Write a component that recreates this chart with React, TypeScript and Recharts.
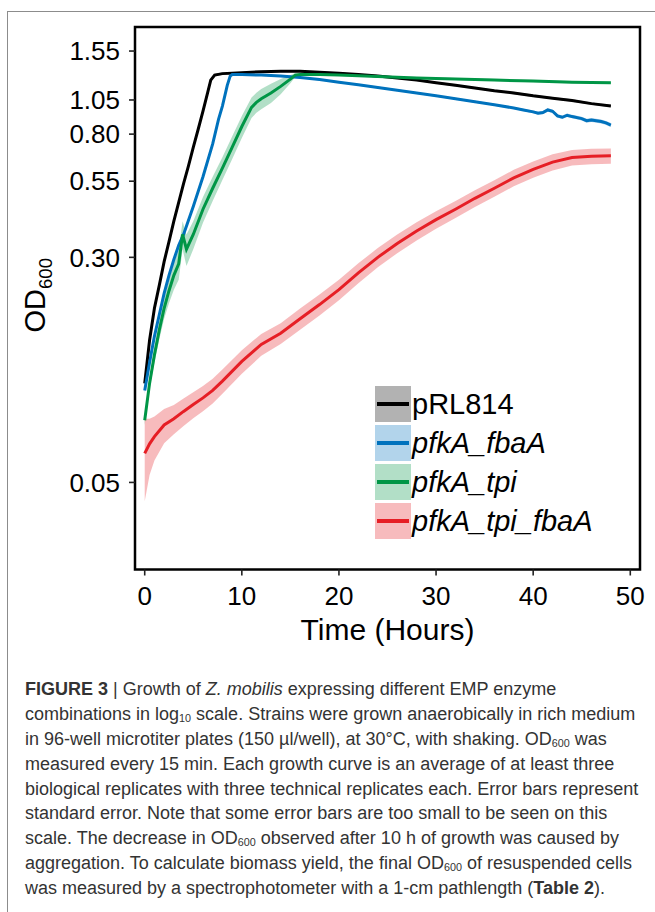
import {
  Area,
  ComposedChart,
  Legend,
  Line,
  ReferenceArea,
  XAxis,
  YAxis,
} from "recharts";

const FONT = "'Liberation Sans', Arial, Helvetica, sans-serif";

const hourTicks = [0, 10, 20, 30, 40, 50];
const odTicks = [0.05, 0.3, 0.55, 0.8, 1.05, 1.55];

// pRL814 (empty vector control)
const pRL814Hours = [0, 0.5, 1, 1.5, 2, 2.5, 3, 3.5, 4, 4.5, 5, 5.5, 6, 6.5, 6.8, 7.2, 8, 10, 12, 14, 16, 18, 20, 22, 24, 26, 28, 30, 32, 34, 36, 38, 40, 42, 44, 46, 48];
const pRL814Mean = [0.11, 0.155, 0.2, 0.24, 0.29, 0.34, 0.4, 0.465, 0.54, 0.62, 0.72, 0.83, 0.96, 1.12, 1.23, 1.28, 1.295, 1.305, 1.315, 1.32, 1.32, 1.31, 1.3, 1.285, 1.27, 1.25, 1.23, 1.205, 1.18, 1.155, 1.13, 1.11, 1.085, 1.065, 1.045, 1.02, 1.0];
const pRL814Se = [0.003, 0.004, 0.005, 0.006, 0.007, 0.008, 0.009, 0.01, 0.011, 0.012, 0.013, 0.014, 0.015, 0.016, 0.016, 0.014, 0.012, 0.01, 0.01, 0.01, 0.01, 0.01, 0.01, 0.01, 0.01, 0.01, 0.01, 0.01, 0.01, 0.01, 0.01, 0.01, 0.01, 0.01, 0.01, 0.01, 0.01];

// pfkA_fbaA
const fbaHours = [0, 0.5, 1, 1.5, 2, 2.5, 3, 3.5, 4, 5, 6, 7, 7.6, 8, 8.5, 8.8, 9, 10, 12, 14, 16, 18, 20, 22, 24, 26, 28, 30, 32, 34, 36, 38, 39, 40, 40.5, 41, 41.5, 42, 42.5, 43, 43.5, 44, 45, 45.5, 46, 47, 47.5, 48];
const fbaMean = [0.104, 0.13, 0.16, 0.19, 0.225, 0.26, 0.295, 0.33, 0.36, 0.45, 0.57, 0.74, 0.9, 1.0, 1.18, 1.27, 1.285, 1.285, 1.28, 1.27, 1.255, 1.235, 1.21, 1.185, 1.16, 1.135, 1.11, 1.085, 1.06, 1.035, 1.01, 0.985, 0.97, 0.955, 0.945, 0.95, 0.97, 0.96, 0.925, 0.915, 0.93, 0.92, 0.905, 0.89, 0.895, 0.885, 0.875, 0.86];
const fbaSe = [0.003, 0.003, 0.004, 0.004, 0.005, 0.005, 0.006, 0.006, 0.007, 0.008, 0.01, 0.012, 0.014, 0.015, 0.015, 0.012, 0.01, 0.008, 0.008, 0.008, 0.008, 0.008, 0.008, 0.008, 0.008, 0.008, 0.008, 0.008, 0.008, 0.008, 0.008, 0.008, 0.01, 0.01, 0.012, 0.012, 0.013, 0.013, 0.013, 0.013, 0.013, 0.013, 0.014, 0.014, 0.014, 0.014, 0.014, 0.014];

// pfkA_tpi
const tpiHours = [0, 0.5, 1, 1.5, 2, 2.5, 3, 3.5, 3.9, 4.3, 5, 6, 7, 8, 9, 10, 11, 11.5, 12, 13, 14, 15, 15.5, 16, 18, 20, 24, 28, 32, 36, 40, 44, 48];
const tpiMean = [0.082, 0.11, 0.138, 0.168, 0.2, 0.23, 0.26, 0.285, 0.36, 0.32, 0.36, 0.44, 0.52, 0.61, 0.72, 0.85, 0.99, 1.03, 1.06, 1.11, 1.17, 1.24, 1.28, 1.285, 1.285, 1.28, 1.265, 1.25, 1.24, 1.23, 1.22, 1.21, 1.205];
const tpiSe = [0.003, 0.005, 0.008, 0.012, 0.016, 0.022, 0.028, 0.034, 0.04, 0.04, 0.04, 0.045, 0.05, 0.055, 0.065, 0.075, 0.08, 0.082, 0.085, 0.085, 0.07, 0.04, 0.02, 0.012, 0.01, 0.01, 0.01, 0.01, 0.01, 0.01, 0.01, 0.01, 0.01];

// pfkA_tpi_fbaA
const tpiFbaHours = [0, 0.5, 1, 2, 3, 4, 5, 6, 7, 8, 10, 12, 14, 16, 18, 20, 22, 24, 26, 28, 30, 32, 34, 36, 38, 40, 42, 44, 46, 48];
const tpiFbaMean = [0.063, 0.068, 0.072, 0.079, 0.083, 0.088, 0.093, 0.098, 0.104, 0.112, 0.131, 0.15, 0.164, 0.184, 0.206, 0.232, 0.265, 0.3, 0.335, 0.37, 0.405, 0.44, 0.48, 0.52, 0.565, 0.604, 0.64, 0.664, 0.671, 0.673];
const tpiFbaSe = [0.02, 0.015, 0.0125, 0.0107, 0.0097, 0.0096, 0.0096, 0.0098, 0.0102, 0.0108, 0.0122, 0.013, 0.0136, 0.0155, 0.017, 0.019, 0.021, 0.023, 0.025, 0.027, 0.028, 0.03, 0.032, 0.034, 0.037, 0.039, 0.041, 0.041, 0.041, 0.041];

type Strain = {
  name: string;
  italic: boolean;
  color: string;
  hours: number[];
  mean: number[];
  se: number[];
};

const strains: Strain[] = [
  { name: "pRL814", italic: false, color: "#000000", hours: pRL814Hours, mean: pRL814Mean, se: pRL814Se },
  { name: "pfkA_fbaA", italic: true, color: "#0072bd", hours: fbaHours, mean: fbaMean, se: fbaSe },
  { name: "pfkA_tpi", italic: true, color: "#009646", hours: tpiHours, mean: tpiMean, se: tpiSe },
  { name: "pfkA_tpi_fbaA", italic: true, color: "#e61e25", hours: tpiFbaHours, mean: tpiFbaMean, se: tpiFbaSe },
];

function toRows(strain: Strain) {
  return strain.hours.map((t, i) => ({
    t,
    mean: strain.mean[i],
    band: [strain.mean[i] - strain.se[i], strain.mean[i] + strain.se[i]],
  }));
}

const captionLines = [
  <>
    <b>FIGURE 3</b> | Growth of <i>Z. mobilis</i> expressing different EMP enzyme
  </>,
  <>
    combinations in log<Sub>10</Sub> scale. Strains were grown anaerobically in rich medium
  </>,
  <>
    in 96-well microtiter plates (150 µl/well), at 30°C, with shaking. OD<Sub>600</Sub> was
  </>,
  <>measured every 15 min. Each growth curve is an average of at least three</>,
  <>biological replicates with three technical replicates each. Error bars represent</>,
  <>standard error. Note that some error bars are too small to be seen on this</>,
  <>
    scale. The decrease in OD<Sub>600</Sub> observed after 10 h of growth was caused by
  </>,
  <>
    aggregation. To calculate biomass yield, the final OD<Sub>600</Sub> of resuspended cells
  </>,
  <>
    was measured by a spectrophotometer with a 1-cm pathlength (<b>Table 2</b>).
  </>,
];

function Sub({ children }: { children: React.ReactNode }) {
  return (
    <span style={{ fontSize: "0.6em", verticalAlign: "-0.2em", lineHeight: 0 }}>
      {children}
    </span>
  );
}

function renderYTitle(props: any) {
  const { x, y, height } = props.viewBox;
  const cx = x + 45;
  const cy = y + height / 2 - 3;
  return (
    <text
      transform={`translate(${cx}, ${cy}) rotate(-90)`}
      textAnchor="middle"
      fontFamily={FONT}
      fill="#000"
    >
      <tspan fontSize={29}>OD</tspan>
      <tspan fontSize={18.5} dy={7}>
        600
      </tspan>
    </text>
  );
}

function renderXTitle(props: any) {
  const { x, y, width } = props.viewBox;
  return (
    <text
      x={x + width / 2}
      y={y + 70.5}
      textAnchor="middle"
      fontFamily={FONT}
      fontSize={30}
      fill="#000"
    >
      Time (Hours)
    </text>
  );
}

function renderLegend() {
  return (
    <div style={{ fontFamily: FONT }}>
      {strains.map((s) => (
        <div
          key={s.name}
          style={{ display: "flex", alignItems: "center", height: 36, marginBottom: 3 }}
        >
          <svg width={36} height={36} style={{ display: "block" }}>
            <rect x={0} y={0} width={36} height={36} fill={s.color} fillOpacity={0.3} />
            <line x1={2} x2={34} y1={18} y2={18} stroke={s.color} strokeWidth={4} />
          </svg>
          <span
            style={{
              fontSize: 29,
              lineHeight: "36px",
              fontStyle: s.italic ? "italic" : "normal",
              color: "#000",
              marginLeft: 1,
              whiteSpace: "nowrap",
            }}
          >
            {s.name}
          </span>
        </div>
      ))}
    </div>
  );
}

export default function App() {
  return (
    <div
      style={{
        position: "absolute",
        left: 0,
        top: 0,
        width: 655,
        height: 912,
        overflow: "hidden",
        background: "#fff",
      }}
    >
      <div
        style={{
          position: "absolute",
          left: 7,
          top: 11,
          width: 700,
          height: 950,
          borderTop: "1.5px solid #8c8c8c",
          borderLeft: "1.5px solid #8c8c8c",
        }}
      />
      <div style={{ position: "absolute", left: 0, top: 0 }}>
        <ComposedChart
          width={655}
          height={660}
          margin={{ top: 27, right: 15, bottom: 0, left: 0 }}
        >
          <XAxis
            type="number"
            dataKey="t"
            domain={[-1, 51]}
            ticks={hourTicks}
            interval={0}
            allowDataOverflow
            height={90.5}
            axisLine={false}
            tickSize={6}
            tickMargin={11}
            tickLine={{ stroke: "#222", strokeWidth: 1.6 }}
            tick={{ fontSize: 26, fill: "#000", fontFamily: FONT }}
            label={renderXTitle}
          />
          <YAxis
            type="number"
            scale="log"
            domain={[0.025, 1.877]}
            ticks={odTicks}
            interval={0}
            allowDataOverflow
            width={135}
            axisLine={false}
            tickSize={6}
            tickMargin={9}
            tickLine={{ stroke: "#222", strokeWidth: 1.6 }}
            tick={{ fontSize: 26, fill: "#000", fontFamily: FONT }}
            tickFormatter={(v: number) => v.toFixed(2)}
            label={renderYTitle}
          />
          {strains.map((s) => (
            <Area
              key={`band-${s.name}`}
              data={toRows(s)}
              dataKey="band"
              type="linear"
              stroke="none"
              fill={s.color}
              fillOpacity={0.3}
              isAnimationActive={false}
            />
          ))}
          {strains.map((s) => (
            <Line
              key={`line-${s.name}`}
              data={toRows(s)}
              dataKey="mean"
              type="linear"
              stroke={s.color}
              strokeWidth={3}
              dot={false}
              activeDot={false}
              isAnimationActive={false}
            />
          ))}
          <ReferenceArea
            x1={-1}
            x2={51}
            y1={0.025}
            y2={1.877}
            fill="none"
            stroke="#000"
            strokeWidth={2.5}
            ifOverflow="visible"
          />
          <Legend
            layout="vertical"
            align="center"
            verticalAlign="middle"
            content={renderLegend}
            wrapperStyle={{ left: 375, top: 386, width: "auto", height: "auto" }}
          />
        </ComposedChart>
      </div>
      <div
        style={{
          position: "absolute",
          left: 25,
          top: 677.4,
          fontFamily: FONT,
          fontSize: 18,
          lineHeight: "24.8px",
          color: "#333",
          whiteSpace: "nowrap",
        }}
      >
        {captionLines.map((line, i) => (
          <div key={i}>{line}</div>
        ))}
      </div>
    </div>
  );
}
